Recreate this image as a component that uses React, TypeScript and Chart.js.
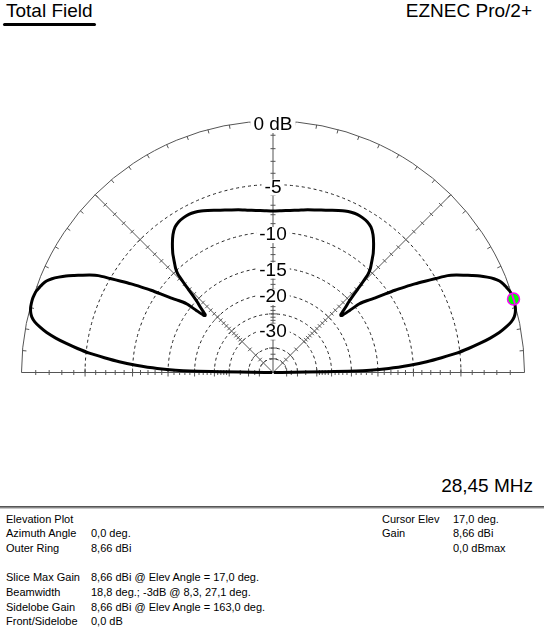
import { useEffect, useRef } from "react";
import { Chart, registerables } from "chart.js";

Chart.register(...registerables);

// elevation pattern: angle above horizon (deg) and field relative to max (dB)
const elevAngles = [
  0, 1, 2, 3, 4, 5, 6, 7, 8, 9, 10, 11, 12, 13, 14, 15, 16, 17, 18, 19, 20,
  21, 22, 23, 24, 25, 26, 27, 28, 29, 30, 31, 32, 33, 34, 35, 36, 37, 38,
  38.5, 39, 39.5, 40, 40.5, 41, 42, 43, 44, 45, 46, 47, 48, 49, 50, 52, 54,
  56, 58, 60, 62, 64, 66, 68, 70, 72, 75, 78, 81, 84, 87, 90,
  93, 96, 99, 102, 105, 108, 110, 112, 114, 116, 118, 120, 122, 124, 126,
  128, 130, 131, 132, 133, 134, 135, 136, 137, 138, 139, 139.5, 140, 140.5,
  141, 141.5, 142, 143, 144, 145, 146, 147, 148, 149, 150, 151, 152, 153,
  154, 155, 156, 157, 158, 159, 160, 161, 162, 163, 164, 165, 166, 167, 168,
  169, 170, 171, 172, 173, 174, 175, 176, 177, 178, 179, 180,
];
const gainDb = [
  -99, -19, -13.3, -10.4, -8.4, -6.8, -5.3, -4.2, -3.2, -2.3, -1.55, -1.0,
  -0.55, -0.27, -0.12, -0.04, -0.01, 0, -0.03, -0.08, -0.2, -0.32, -0.5, -0.8,
  -1.2, -1.65, -2.2, -2.75, -3.3, -3.95, -5.0, -6.0, -7.0, -8.1, -9.2, -10.4,
  -11.6, -12.6, -13.5, -14.2, -16.0, -17.6, -17.9, -17.8, -17.3, -16.2, -15.2,
  -13.8, -12.0, -10.4, -9.7, -9.2, -8.7, -8.2, -7.4, -6.7, -6.2, -5.95, -5.85,
  -5.82, -5.9, -6.05, -6.25, -6.45, -6.65, -6.9, -7.1, -7.3, -7.45, -7.55, -7.6,
  -7.55, -7.45, -7.3, -7.1, -6.9, -6.65, -6.45, -6.25, -6.05, -5.9, -5.82,
  -5.85, -5.95, -6.2, -6.7, -7.4, -8.2, -8.7, -9.2, -9.7, -10.4, -12.0, -13.8,
  -15.2, -16.2, -17.3, -17.8, -17.9, -17.6, -16.0, -14.2, -13.5, -12.6, -11.6,
  -10.4, -9.2, -8.1, -7.0, -6.0, -5.0, -3.95, -3.3, -2.75, -2.2, -1.65, -1.2,
  -0.8, -0.5, -0.32, -0.2, -0.08, -0.03, 0, -0.01, -0.04, -0.12, -0.27, -0.55,
  -1.0, -1.55, -2.3, -3.2, -4.2, -5.3, -6.8, -8.4, -10.4, -13.3, -19, -99,
];

const ringDb = [-5, -10, -15, -20, -25, -30, -40, -50];
const ringLabelDb = [-5, -10, -15, -20, -30];
const ringLabels = ["-5", "-10", "-15", "-20", "-30"];
const radialAngles = [0, 45, 90, 135, 180];
const tickDb = [
  -1, -2, -3, -4, -5, -6, -7, -8, -9, -10, -11, -12, -13, -14, -15, -16, -17,
  -18, -19, -20, -21, -22, -23, -24, -25, -26, -27, -28, -29, -30, -35, -40,
  -45, -50,
];
const cursorElev = 17;
const cursorDb = 0;

const infoLeft = [
  ["Elevation Plot", ""],
  ["Azimuth Angle", "0,0 deg."],
  ["Outer Ring", "8,66 dBi"],
  ["", ""],
  ["Slice Max Gain", "8,66 dBi @ Elev Angle = 17,0 deg."],
  ["Beamwidth", "18,8 deg.; -3dB @ 8,3, 27,1 deg."],
  ["Sidelobe Gain", "8,66 dBi @ Elev Angle = 163,0 deg."],
  ["Front/Sidelobe", "0,0 dB"],
];
const infoRight = [
  ["Cursor Elev", "17,0 deg."],
  ["Gain", "8,66 dBi"],
  ["", "0,0 dBmax"],
];

// canvas geometry
const CW = 544;
const CH = 290;
const CTOP = 100;
const CX = 273;
const CY = 272.5;
const RPX = 251.5;

const FONT = '"Liberation Sans", Arial, sans-serif';

// ARRL log scale: radius shrinks by 0.89 every 2 dB
const arrl = (db: number) => Math.pow(0.89, -db / 2);
const toXY = (elev: number, db: number) => {
  const r = arrl(db);
  const t = (elev * Math.PI) / 180;
  return { x: r * Math.cos(t), y: r * Math.sin(t) };
};

const polarGrid = {
  id: "polarGrid",
  beforeDatasetsDraw(chart: any) {
    const { ctx } = chart;
    const xs = chart.scales.x;
    const ys = chart.scales.y;
    const cx = xs.getPixelForValue(0);
    const cy = ys.getPixelForValue(0);
    const rad = (db: number) => xs.getPixelForValue(arrl(db)) - cx;
    const R = rad(0);
    ctx.save();

    ctx.lineWidth = 1;
    ctx.strokeStyle = "#222";
    ctx.setLineDash([3, 3]);
    ringDb.forEach((db) => {
      ctx.beginPath();
      ctx.arc(cx, cy, rad(db), Math.PI, 2 * Math.PI);
      ctx.stroke();
    });
    ctx.setLineDash([]);

    ctx.strokeStyle = "#555";
    ctx.beginPath();
    ctx.arc(cx, cy, R, Math.PI, 2 * Math.PI);
    ctx.stroke();

    // radial lines with dB ticks
    radialAngles.forEach((a) => {
      const t = (a * Math.PI) / 180;
      const dx = Math.cos(t);
      const dy = -Math.sin(t);
      ctx.beginPath();
      ctx.moveTo(cx, cy);
      ctx.lineTo(cx + R * dx, cy + R * dy);
      ctx.stroke();
      tickDb.forEach((db) => {
        const r = rad(db);
        const h = ringDb.includes(db) ? 4 : 2.5;
        const px = cx + r * dx;
        const py = cy + r * dy;
        ctx.beginPath();
        ctx.moveTo(px - h * dy, py + h * dx);
        ctx.lineTo(px + h * dy, py - h * dx);
        ctx.stroke();
      });
    });

    // rim ticks every 5 deg
    for (let a = 5; a < 180; a += 5) {
      const t = (a * Math.PI) / 180;
      ctx.beginPath();
      ctx.moveTo(cx + R * Math.cos(t), cy - R * Math.sin(t));
      ctx.lineTo(cx + (R - 4) * Math.cos(t), cy - (R - 4) * Math.sin(t));
      ctx.stroke();
    }

    // ring labels
    ctx.font = "19px " + FONT;
    ctx.textAlign = "center";
    ctx.textBaseline = "middle";
    const label = (text: string, y: number) => {
      const w = ctx.measureText(text).width + 6;
      ctx.fillStyle = "#fff";
      ctx.fillRect(cx - w / 2, y - 8, w, 16);
      ctx.fillStyle = "#000";
      ctx.fillText(text, cx, y);
    };
    label("0 dB", cy - R + 4);
    ringLabelDb.forEach((db, i) => label(ringLabels[i], cy - rad(db) + 3));
    ctx.restore();
  },
  afterDatasetsDraw(chart: any) {
    const { ctx } = chart;
    const xs = chart.scales.x;
    const ys = chart.scales.y;
    const p = toXY(cursorElev, cursorDb);
    const px = xs.getPixelForValue(p.x);
    const py = ys.getPixelForValue(p.y);
    const t = ((cursorElev + 90) * Math.PI) / 180;
    ctx.save();
    ctx.beginPath();
    ctx.arc(px, py, 6, 0, 2 * Math.PI);
    ctx.fillStyle = "#00ff00";
    ctx.fill();
    ctx.lineWidth = 1.5;
    ctx.strokeStyle = "#ff00ff";
    ctx.stroke();
    ctx.lineWidth = 2;
    ctx.beginPath();
    ctx.moveTo(px - 5 * Math.cos(t), py + 5 * Math.sin(t));
    ctx.lineTo(px + 5 * Math.cos(t), py - 5 * Math.sin(t));
    ctx.stroke();
    ctx.restore();
  },
};

function PolarPlot() {
  const canvasRef = useRef<HTMLCanvasElement | null>(null);
  const chartRef = useRef<Chart | null>(null);

  useEffect(() => {
    if (!canvasRef.current) return;
    if (chartRef.current) chartRef.current.destroy();

    const points = elevAngles.map((a, i) => toXY(a, gainDb[i]));

    chartRef.current = new Chart(canvasRef.current, {
      type: "scatter",
      data: {
        datasets: [
          {
            label: "Total Field",
            data: points,
            showLine: true,
            borderColor: "#000",
            borderWidth: 3,
            borderJoinStyle: "round",
            pointRadius: 0,
            tension: 0.2,
            fill: false,
          },
        ],
      },
      options: {
        animation: false,
        responsive: false,
        layout: { padding: 0 },
        scales: {
          x: { type: "linear", display: false, min: -CX / RPX, max: (CW - CX) / RPX },
          y: { type: "linear", display: false, min: -(CH - CY) / RPX, max: CY / RPX },
        },
        plugins: {
          legend: { display: false },
          tooltip: { enabled: false },
        },
      },
      plugins: [polarGrid],
    });

    return () => {
      chartRef.current?.destroy();
      chartRef.current = null;
    };
  }, []);

  return (
    <canvas
      ref={canvasRef}
      width={CW}
      height={CH}
      style={{ position: "absolute", left: 0, top: CTOP, width: CW, height: CH }}
    />
  );
}

export default function App() {
  const rowH = 14.7;
  return (
    <div
      style={{
        position: "fixed",
        left: 0,
        top: 0,
        width: 544,
        height: 635,
        background: "#fff",
        fontFamily: FONT,
        color: "#000",
        overflow: "hidden",
      }}
    >
      <div style={{ position: "absolute", left: 6, top: 1, fontSize: 19, lineHeight: "19px" }}>
        Total Field
      </div>
      <div
        style={{
          position: "absolute",
          left: 3,
          top: 23,
          width: 93,
          height: 3,
          background: "#000",
          borderRadius: 2,
        }}
      />
      <div style={{ position: "absolute", right: 12, top: 1, fontSize: 19, lineHeight: "19px" }}>
        EZNEC Pro/2+
      </div>

      <PolarPlot />

      <div style={{ position: "absolute", right: 11, top: 476, fontSize: 19, lineHeight: "19px" }}>
        28,45 MHz
      </div>
      <div
        style={{
          position: "absolute",
          left: 0,
          top: 506,
          width: 544,
          height: 1,
          background: "#888",
          borderTop: "1px solid #555",
          borderBottom: "1px solid #c8c8c8",
        }}
      />

      {infoLeft.map(([k, v], i) => (
        <div
          key={"l" + i}
          style={{
            position: "absolute",
            left: 0,
            top: 511.5 + i * rowH,
            fontSize: 11,
            lineHeight: rowH + "px",
            whiteSpace: "nowrap",
          }}
        >
          <span style={{ position: "absolute", left: 6 }}>{k}</span>
          <span style={{ position: "absolute", left: 91 }}>{v}</span>
        </div>
      ))}
      {infoRight.map(([k, v], i) => (
        <div
          key={"r" + i}
          style={{
            position: "absolute",
            left: 0,
            top: 511.5 + i * rowH,
            fontSize: 11,
            lineHeight: rowH + "px",
            whiteSpace: "nowrap",
          }}
        >
          <span style={{ position: "absolute", left: 382 }}>{k}</span>
          <span style={{ position: "absolute", left: 453 }}>{v}</span>
        </div>
      ))}
    </div>
  );
}
